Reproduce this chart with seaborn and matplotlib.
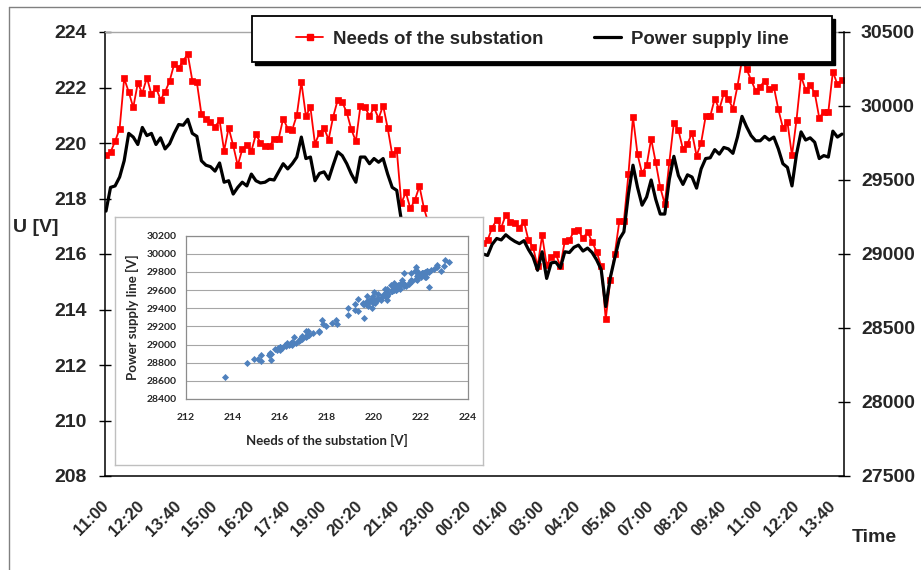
import numpy as np
import matplotlib
matplotlib.use("Agg")
import matplotlib.pyplot as plt
import seaborn as sns
from matplotlib.lines import Line2D
from matplotlib.patches import Rectangle

# ---------------- data ----------------
time_labels = ["11:00", "12:20", "13:40", "15:00", "16:20", "17:40", "19:00",
               "20:20", "21:40", "23:00", "00:20", "01:40", "03:00", "04:20",
               "05:40", "07:00", "08:20", "09:40", "11:00", "12:20", "13:40"]
series_names = ["Needs of the substation", "Power supply line"]

# Needs of the substation [V] (left axis), one sample every 10 min from 11:00
needs = [219.57, 219.67, 220.06, 220.52, 222.33, 221.84, 221.28, 222.16, 221.79, 222.36,
         221.75, 222.00, 221.56, 221.84, 222.23, 222.84, 222.69, 222.97, 223.20, 222.25,
         222.19, 221.04, 220.86, 220.75, 220.58, 220.82, 219.72, 220.55, 219.91, 219.19,
         219.77, 219.94, 219.71, 220.31, 220.01, 219.90, 219.88, 220.15, 220.15, 220.88,
         220.52, 220.48, 221.00, 222.20, 220.98, 221.28, 219.97, 220.37, 220.54, 220.12,
         220.94, 221.55, 221.47, 221.10, 220.49, 220.06, 221.33, 221.30, 220.96, 221.28,
         220.88, 221.35, 220.54, 219.59, 219.76, 217.83, 218.22, 217.64, 217.95, 218.44,
         217.64, 217.10, 216.60, 216.30, 215.80, 215.20, 214.60, 214.90, 215.20, 215.60,
         215.90, 216.20, 216.00, 216.40, 216.50, 216.95, 217.23, 216.95, 217.41, 217.17,
         217.10, 216.95, 217.17, 216.49, 216.25, 215.55, 216.67, 215.60, 215.89, 216.01,
         215.56, 216.47, 216.49, 216.83, 216.85, 216.56, 216.80, 216.44, 216.08, 215.56,
         213.65, 215.05, 216.01, 217.19, 217.19, 218.88, 220.94, 219.59, 218.91, 219.19,
         220.15, 219.31, 218.40, 217.80, 219.31, 220.73, 220.46, 219.78, 219.97, 220.36,
         219.54, 220.01, 220.96, 220.96, 221.60, 221.21, 221.79, 221.58, 221.24, 222.05,
         223.00, 222.66, 222.27, 221.88, 222.03, 222.25, 221.93, 222.03, 221.21, 220.55,
         220.75, 219.55, 220.84, 222.41, 221.91, 222.09, 221.81, 220.91, 221.12, 221.12,
         222.57, 222.11, 222.27]

# Power supply line [V] (right axis)
supply = [29290, 29450, 29460, 29520, 29630, 29815, 29790, 29740, 29855, 29800,
          29815, 29740, 29785, 29710, 29745, 29815, 29875, 29870, 29910, 29815,
          29795, 29630, 29600, 29590, 29560, 29615, 29485, 29495, 29405, 29450,
          29485, 29460, 29540, 29495, 29480, 29485, 29505, 29500, 29555, 29610,
          29575, 29610, 29655, 29790, 29645, 29655, 29495, 29545, 29555, 29505,
          29600, 29690, 29665, 29610, 29540, 29485, 29655, 29655, 29610, 29645,
          29620, 29645, 29540, 29450, 29430, 29230, 29240, 29150, 29200, 29230,
          29140, 29150, 29080, 29020, 28950, 28880, 28800, 28840, 28820, 28900,
          28960, 28990, 28970, 29000, 28990, 29065, 29105, 29095, 29130, 29105,
          29085, 29070, 29090, 29030, 28980, 28890, 29015, 28835, 28940, 28945,
          28905, 29015, 29010, 29045, 29060, 29020, 29040, 29010, 28960, 28895,
          28645, 28840, 28975, 29100, 29150, 29405, 29600, 29450, 29330, 29385,
          29500, 29370, 29270, 29270, 29505, 29660, 29530, 29470, 29535, 29520,
          29445, 29575, 29645, 29650, 29705, 29675, 29720, 29710, 29680, 29790,
          29930, 29860, 29800, 29765, 29765, 29795, 29770, 29790, 29710, 29610,
          29585, 29460, 29675, 29825, 29770, 29785, 29755, 29645, 29665, 29655,
          29830, 29790, 29810]

minutes = np.arange(len(needs)) * 10          # minutes after 11:00
tick_minutes = np.arange(len(time_labels)) * 80

# ---------------- style ----------------
sns.set_style("white")
plt.rcParams["font.family"] = ["Liberation Sans", "DejaVu Sans"]
plt.rcParams["font.weight"] = "bold"
plt.rcParams["axes.labelweight"] = "bold"

W, H = 921, 570
def fx(px):
    return px / W
def fy(py):
    return 1 - py / H

fig = plt.figure(figsize=(W / 100, H / 100), dpi=100)
fig.patch.set_facecolor("white")

# ---------------- main chart ----------------
ax = fig.add_axes([fx(105), fy(476), (844 - 105) / W, (476 - 32) / H])
ax2 = ax.twinx()
ax.set_zorder(1)
ax2.set_zorder(2)
ax.patch.set_facecolor("white")
ax2.patch.set_visible(False)

sns.lineplot(x=minutes, y=needs, ax=ax, color="#FF0000", linewidth=1.3,
             marker="s", markersize=4.2, markeredgewidth=0.5,
             markeredgecolor="#FF0000", legend=False)
sns.lineplot(x=minutes, y=supply, ax=ax2, color="black", linewidth=2.3,
             legend=False)

ax.set_xlim(-2.2, 1624.5)
ax.set_ylim(208, 224)
ax.set_yticks(np.arange(208, 225, 2))
ax2.set_ylim(27500, 30500)
ax2.set_yticks(np.arange(27500, 30501, 500))
ax.set_xticks(tick_minutes)
ax.set_xticklabels(time_labels, rotation=45, ha="right", va="center",
                   rotation_mode="anchor")
ax.set_xlabel("")
ax.set_ylabel("")
ax2.set_ylabel("")

ax.tick_params(axis="x", length=0, pad=20, labelsize=12)
ax.tick_params(axis="y", direction="inout", length=8.5, width=1, pad=9,
               labelsize=14, color="black")
ax2.tick_params(axis="y", direction="inout", length=8.5, width=1, pad=8,
                labelsize=14, color="black")

for s in ["left", "bottom"]:
    ax.spines[s].set_color("black")
    ax.spines[s].set_linewidth(1.1)
ax.spines["right"].set_visible(False)
ax.spines["top"].set_color("#A6A6A6")
ax.spines["top"].set_linewidth(1)
for s in ["left", "bottom", "top"]:
    ax2.spines[s].set_visible(False)
ax2.spines["right"].set_color("black")
ax2.spines["right"].set_linewidth(1.1)

fig.text(fx(13), fy(228), "U [V]", ha="left", va="center", fontsize=14,
         fontweight="bold")
fig.text(fx(852), fy(537), "Time", ha="left", va="center", fontsize=14,
         fontweight="bold")

# ---------------- legend ----------------
shadow = Rectangle((fx(252) + 3 / W, fy(62) - 3 / H), 580 / W, 46 / H,
                   transform=fig.transFigure, facecolor="black",
                   edgecolor="black", zorder=8)
box = Rectangle((fx(252), fy(62)), 580 / W, 46 / H, transform=fig.transFigure,
                facecolor="white", edgecolor="black", linewidth=1.3, zorder=9)
fig.add_artist(shadow)
fig.add_artist(box)
handles = [Line2D([], [], color="#FF0000", lw=1.3, marker="s", markersize=4.2,
                  markeredgecolor="#FF0000"),
           Line2D([], [], color="black", lw=2.3)]
leg = fig.legend(handles, series_names, loc="center",
                 bbox_to_anchor=(fx(542.5), fy(39)), ncol=2, frameon=False,
                 prop={"family": ["Liberation Sans", "DejaVu Sans"],
                       "weight": "bold", "size": 13.4},
                 handlelength=1.45, handletextpad=0.54, columnspacing=2.7,
                 borderpad=0, borderaxespad=0)
leg.set_zorder(10)

# ---------------- inset scatter ----------------
frame = fig.add_axes([fx(115), fy(465), (483 - 115) / W, (465 - 217) / H])
frame.set_zorder(5)
frame.set_facecolor("white")
frame.set_xticks([])
frame.set_yticks([])
for s in frame.spines.values():
    s.set_color("#BFBFBF")
    s.set_linewidth(1)

ins = fig.add_axes([fx(186), fy(399), (468 - 186) / W, (399 - 235.7) / H])
ins.set_zorder(6)
ins.set_facecolor("white")
sns.scatterplot(x=needs, y=supply, ax=ins, marker="D", color="#4F81BD",
                s=13, linewidth=0, legend=False)
ins.set_xlim(212, 224)
ins.set_xticks(np.arange(212, 225, 2))
ins.set_ylim(28400, 30200)
ins.set_yticks(np.arange(28400, 30201, 200))
ins.set_axisbelow(True)
ins.grid(axis="y", color="#A6A6A6", linewidth=0.8)
ins.grid(axis="x", visible=False)
for s in ins.spines.values():
    s.set_color("#8C8C8C")
    s.set_linewidth(0.9)
ins.tick_params(axis="x", length=0, pad=10, labelsize=7.5)
ins.tick_params(axis="y", length=0, pad=7, labelsize=7.5)
for lab in ins.get_xticklabels() + ins.get_yticklabels():
    lab.set_family(["Lato", "DejaVu Sans"])
    lab.set_fontweight("bold")
ins.set_xlabel("Needs of the substation [V]", fontsize=9.5, fontweight="bold",
               family=["Lato", "DejaVu Sans"], labelpad=9)
ins.set_ylabel("Power supply line [V]", fontsize=9.5, fontweight="bold",
               family=["Lato", "DejaVu Sans"], labelpad=5)

# ---------------- outer chart border ----------------
fig.add_artist(Line2D([fx(9), fx(9)], [fy(7), 0], transform=fig.transFigure,
                      color="#808080", lw=1))
fig.add_artist(Line2D([fx(9), 1], [fy(7), fy(7)], transform=fig.transFigure,
                      color="#808080", lw=1))

fig.savefig("out.png", dpi=100)
